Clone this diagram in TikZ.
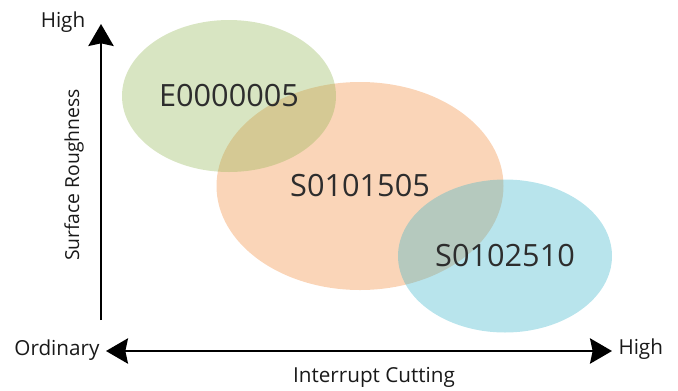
\documentclass[tikz,border=0pt]{standalone}
\usepackage{fontspec}
\setmainfont{Open Sans}
\usetikzlibrary{shapes.geometric,arrows.meta}

\definecolor{greenbase}{RGB}{144,181,81}
\definecolor{orangebase}{RGB}{241,135,52}
\definecolor{bluebase}{RGB}{52,178,201}
\definecolor{labelgray}{RGB}{45,45,45}

\tikzset{every picture/.style={line width=0.75pt}}
\tikzset{
  blob/.style={ellipse, inner sep=0pt, fill opacity=0.35, text opacity=1,
    text=labelgray, font=\fontsize{23}{27}\selectfont},
  axlabel/.style={inner sep=0pt, text=black!90, font=\fontsize{15.5}{18}\selectfont},
  axis/.style={line width=1.5pt, >={Stealth[length=16.5pt,width=19pt,inset=2pt]}}
}

\begin{document}
\begin{tikzpicture}[x=0.75pt,y=0.75pt,yscale=-1,xscale=1]
\useasboundingbox (0,0) rectangle (678,390);

%Ellipses
\node [blob, fill=orangebase, minimum width=215.25pt, minimum height=156pt] (mid) at (360,186) {S0101505};
\node [blob, fill=greenbase, minimum width=160.5pt, minimum height=114pt] (top) at (229,96) {E0000005};
\node [blob, fill=bluebase, minimum width=160.5pt, minimum height=114.75pt] (low) at (505,256) {S0102510};

%Axes
\coordinate (ybot) at (101,320);
\coordinate (ytop) at (101,24);
\coordinate (xleft) at (106,351);
\coordinate (xright) at (612,351);
\draw [axis, ->] (ybot) -- (ytop);
\draw [axis, <->] (xleft) -- (xright);

% Text Node
\node [axlabel, anchor=base] (yhigh) at (63,27) {High};
% Text Node
\node [axlabel, anchor=base, rotate=90, font=\fontsize{14.5}{17}\selectfont] (ytitle) at (79,175) {Surface Roughness};
% Text Node
\node [axlabel, anchor=base east] (ordinary) at (100,355) {Ordinary};
% Text Node
\node [axlabel, anchor=base west] (xhigh) at (618,354) {High};
% Text Node
\node [axlabel, anchor=base] (xtitle) at (374,382) {Interrupt Cutting};

\end{tikzpicture}
\end{document}
